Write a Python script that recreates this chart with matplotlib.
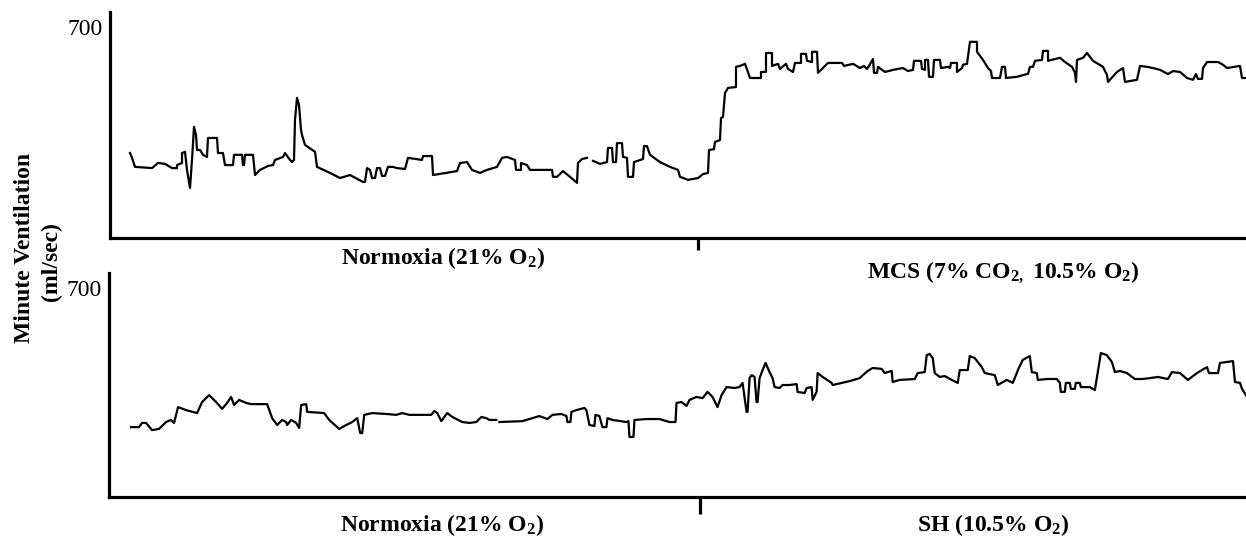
import numpy as np
import matplotlib
matplotlib.use("Agg")
import matplotlib.pyplot as plt

plt.rcParams['font.family'] = ['Liberation Serif', 'DejaVu Serif']
plt.rcParams['mathtext.default'] = 'regular'

# Minute ventilation traces (time in min, ventilation in ml/sec); NaN marks a recording gap
mcs_time = [1.0, 1.1, 1.25, 2.1, 2.4, 2.75, 3.1, 3.35, 3.35, 3.6, 3.6, 3.75, 3.85, 4.0, 4.1, 4.2, 4.3, 4.35,
            4.5, 4.65, 4.85, 4.9, 5.35, 5.4, 5.65, 5.75, 6.15, 6.2, 6.6, 6.65, 6.7, 6.75, 7.15, 7.25, 7.5,
            7.9, 8.15, 8.25, 8.65, 8.75, 9.0, 9.1, 9.2, 9.25, 9.35, 9.45, 9.55, 9.6, 9.75, 10.25, 10.35,
            11.0, 11.5, 12.0, 12.65, 12.75, 12.85, 13.0, 13.1, 13.25, 13.35, 13.5, 13.6, 13.75, 13.9, 14.15,
            14.35, 14.75, 14.9, 15.6, 15.65, 16.1, 16.15, 17.35, 17.5, 17.85, 18.1, 18.5, 18.85, 19.35, 19.6,
            19.85, 20.25, 20.3, 20.55, 20.55, 20.85, 21.0, 22.1, 22.15, 22.35, 22.65, 23.0, 23.35, 23.4, 23.6,
            23.85, 24.0, 24.15, 24.5, 24.85, 24.9, 25.1, 25.15, 25.3, 25.35, 25.6, 25.65, 25.85, 25.9, 26.15,
            26.2, 26.65, 26.7, 26.85, 27.0, 27.5, 28.0, 28.4, 28.5, 28.9, 29.4, 29.65, 29.9, 29.95, 30.2,
            30.25, 30.5, 30.55, 30.65, 30.75, 30.9, 31.3, 31.3, 31.5, 31.75, 32.0, 32.55, 32.55, 32.8, 32.8,
            33.1, 33.1, 33.4, 33.5, 33.8, 33.9, 34.15, 34.25, 34.55, 34.55, 34.8, 34.85, 35.1, 35.1, 35.35,
            35.4, 35.9, 36.6, 36.7, 37.15, 37.5, 37.7, 37.85, 37.95, 38.15, 38.2, 38.35, 38.4, 38.75, 39.15,
            39.65, 39.9, 40.15, 40.2, 40.55, 40.6, 40.75, 40.75, 40.9, 40.95, 41.15, 41.2, 41.5, 41.55, 41.9,
            42.0, 42.05, 42.35, 42.35, 42.6, 42.65, 42.85, 43.0, 43.35, 43.35, 43.65, 43.9, 44.05, 44.1, 44.5,
            44.6, 44.75, 44.8, 45.35, 45.9, 46.0, 46.15, 46.25, 46.6, 46.65, 46.9, 46.9, 47.5, 47.75, 48.1,
            48.25, 48.3, 48.35, 48.65, 48.85, 49.0, 49.15, 49.65, 49.85, 49.9, 50.35, 50.65, 50.75, 51.35,
            51.5, 51.85, 52.15, 52.5, 52.9, 53.15, 53.5, 53.85, 54.15, 54.3, 54.4, 54.6, 54.65, 54.85, 55.4,
            55.65, 55.85, 56.5, 56.6, 56.8]
mcs_vent = [282, 266, 236, 232, 249, 246, 232, 232, 242, 249, 282, 286, 226, 166, 259, 369, 342, 292,
            292, 276, 269, 332, 332, 282, 282, 242, 242, 276, 276, 242, 242, 276, 276, 209, 226,
            239, 242, 259, 269, 282, 259, 252, 259, 392, 465, 442, 359, 342, 309, 286, 236,
            216, 199, 209, 186, 186, 232, 226, 199, 199, 232, 232, 206, 206, 236, 236,
            232, 229, 266, 259, 272, 272, 209, 222, 249, 252, 226, 216, 226, 236, 266,
            269, 259, 226, 226, 249, 242, 226, 226, 203, 203, 222, 203, 183, 249, 262,
            266, np.nan, 256, 246, 252, 299, 299, 252, 252, 315, 315, 269, 266, 203, 203,
            252, 262, 305, 305, 276, 252, 236, 226, 203, 193, 199, 212, 216, 292, 295,
            319, 325, 398, 402, 481, 498, 501, 568, 571, 578, 531, 531, 551, 551, 614,
            614, 571, 578, 561, 578, 561, 551, 581, 581, 611, 611, 588, 584, 618, 618,
            548, 581, 581, 571, 578, 564, 571, 561, 571, 594, 548, 548, 568, 551, 558,
            564, 554, 558, 588, 588, 561, 558, 591, 591, 535, 535, 591, 591, 564, 568,
            564, 581, 581, 551, 564, 575, 578, 651, 651, 618, 591, 564, 554, 531, 531,
            568, 568, 531, 535, 545, 568, 568, 588, 591, 621, 621, 588, 598, 584, 568,
            548, 518, 591, 598, 614, 601, 588, 568, 541, 518, 551, 564, 518, 525,
            571, 568, 564, 558, 544, 554, 551, 531, 525, 544, 528, 528, 564, 584, 584,
            575, 564, 571, 531, 531]

sh_time = [1.1, 1.5, 1.65, 1.85, 2.15, 2.5, 2.85, 3.1, 3.25, 3.45, 3.85, 4.4, 4.65, 5.0, 5.35, 5.65, 5.9,
           6.1, 6.25, 6.5, 6.85, 7.1, 7.9, 8.15, 8.4, 8.65, 8.85, 8.9, 9.1, 9.35, 9.5, 9.6, 9.85, 9.9,
           10.75, 11.0, 11.5, 11.85, 12.15, 12.4, 12.55, 12.65, 12.75, 13.15, 13.85, 14.35, 14.65, 15.0,
           16.1, 16.25, 16.4, 16.6, 16.75, 16.9, 17.15, 17.65, 18.0, 18.35, 18.6, 18.85, 19.0, 19.35, 19.42,
           19.5, 20.65, 21.0, 21.5, 21.9, 22.15, 22.6, 22.85, 22.9, 23.05, 23.1, 23.35, 23.75, 23.85, 24.0,
           24.25, 24.3, 24.5, 24.65, 24.85, 24.9, 25.15, 25.85, 25.95, 26.0, 26.2, 26.25, 26.85, 27.5, 28.0,
           28.3, 28.35, 28.6, 28.85, 29.0, 29.35, 29.65, 29.9, 30.15, 30.4, 30.6, 30.85, 31.25, 31.5, 31.65,
           31.85, 31.9, 32.0, 32.1, 32.25, 32.35, 32.4, 32.5, 32.65, 32.8, 33.0, 33.15, 33.25, 33.5, 33.65,
           34.0, 34.35, 34.4, 34.75, 34.85, 35.1, 35.15, 35.35, 35.4, 35.65, 36.1, 36.15, 37.0, 37.5, 37.9,
           38.15, 38.6, 38.75, 39.1, 39.15, 39.5, 40.25, 40.4, 40.75, 40.85, 41.0, 41.15, 41.25, 41.5, 41.75,
           42.1, 42.4, 42.5, 42.9, 43.0, 43.25, 43.6, 43.75, 44.25, 44.4, 44.85, 45.15, 45.45, 45.65, 46.0,
           46.1, 46.35, 46.4, 46.85, 47.35, 47.5, 47.55, 47.75, 47.8, 48.0, 48.05, 48.25, 48.3, 48.5, 48.55,
           49.0, 49.25, 49.55, 49.85, 50.1, 50.25, 50.5, 50.85, 51.25, 51.6, 52.0, 52.4, 52.9, 53.1, 53.5,
           53.9, 54.35, 54.85, 54.95, 55.4, 55.5, 56.15, 56.25, 56.5, 56.6, 56.8]
sh_vent = [234, 234, 248, 248, 224, 228, 251, 258, 248, 301, 291, 281, 318, 341, 318, 295, 315,
           335, 308, 325, 315, 311, 311, 264, 241, 258, 251, 241, 258, 248, 231, 308, 311, 285,
           281, 258, 228, 241, 251, 264, 214, 214, 275, 281, 278, 275, 281, 275,
           275, 288, 281, 254, 268, 281, 268, 251, 248, 251, 268, 264, 258, 258, np.nan,
           251, 254, 261, 271, 261, 275, 278, 271, 251, 251, 285, 291, 298, 291, 241,
           238, 275, 271, 234, 234, 264, 258, 251, 254, 201, 201, 258, 261, 261, 251,
           251, 315, 318, 305, 325, 335, 331, 352, 335, 301, 341, 368, 365, 368, 382,
           285, 285, 398, 408, 402, 318, 318, 398, 425, 449, 418, 398, 368, 365, 375,
           375, 378, 352, 348, 365, 368, 325, 352, 415, 402, 382, 375, 388, 398, 422,
           432, 429, 415, 422, 385, 392, 395, 415, 418, 475, 479, 465, 415, 402, 405,
           392, 382, 425, 425, 472, 465, 435, 415, 408, 375, 392, 382, 432, 459, 472,
           418, 415, 392, 395, 395, 382, 352, 352, 382, 382, 362, 362, 382, 382, 368,
           368, 358, 482, 475, 452, 418, 422, 415, 395, 395, 398, 402, 395, 418, 415,
           392, 415, 435, 415, 415, 449, 455, 385, 382, 362, 341]

ytick_values = [700]
top_labels = ["Normoxia (21% O$_2$)", "MCS (7% CO$_{2,}$ 10.5% O$_2$)"]
bottom_labels = ["Normoxia (21% O$_2$)", "SH (10.5% O$_2$)"]
top_switch = 29.4
bottom_switch = 29.5

fig = plt.figure(figsize=(12.46, 5.42), dpi=100)
ax1 = fig.add_axes([110 / 1246, 1 - 238 / 542, 1 - 110 / 1246, 226 / 542])
ax2 = fig.add_axes([109 / 1246, 1 - 497 / 542, 1 - 109 / 1246, 224 / 542])


def style_axis(ax, switch, tick_len):
    ax.patch.set_visible(False)
    ax.set_xlim(0, 56.8)
    ax.set_ylim(0, 750)
    for side in ("top", "right"):
        ax.spines[side].set_visible(False)
    for side in ("left", "bottom"):
        ax.spines[side].set_linewidth(2.3)
        ax.spines[side].set_capstyle("projecting")
    ax.set_yticks(ytick_values)
    ax.set_yticklabels([str(v) for v in ytick_values], fontsize=17)
    ax.tick_params(axis="y", length=0, pad=5)
    ax.set_xticks([switch])
    ax.set_xticklabels([""])
    ax.tick_params(axis="x", direction="out", length=tick_len, width=2.3)


ax1.plot(mcs_time, mcs_vent, color="black", lw=1.6, solid_joinstyle="round")
style_axis(ax1, top_switch, 8.5)
ax2.plot(sh_time, sh_vent, color="black", lw=1.6, solid_joinstyle="round")
style_axis(ax2, bottom_switch, 12.5)

label_kw = dict(xycoords=("data", "axes fraction"), textcoords="offset points",
                ha="center", va="center", fontsize=17, fontweight="bold")
ax1.annotate(top_labels[0], xy=(16.65, 0), xytext=(0, -14.5), **label_kw)
ax1.annotate(top_labels[1], xy=(44.65, 0), xytext=(0, -24.5), **label_kw)
ax2.annotate(bottom_labels[0], xy=(16.65, 0), xytext=(0, -20), **label_kw)
ax2.annotate(bottom_labels[1], xy=(44.15, 0), xytext=(0, -20), **label_kw)

# Shared y-axis title, two rotated lines
fig.text(25 / 1246, 1 - 248 / 542, "Minute Ventilation", rotation=90,
         ha="center", va="center", fontsize=17, fontweight="bold")
fig.text(51 / 1246, 1 - 262 / 542, "(ml/sec)", rotation=90,
         ha="center", va="center", fontsize=17, fontweight="bold")

fig.savefig("out.png", dpi=100)
